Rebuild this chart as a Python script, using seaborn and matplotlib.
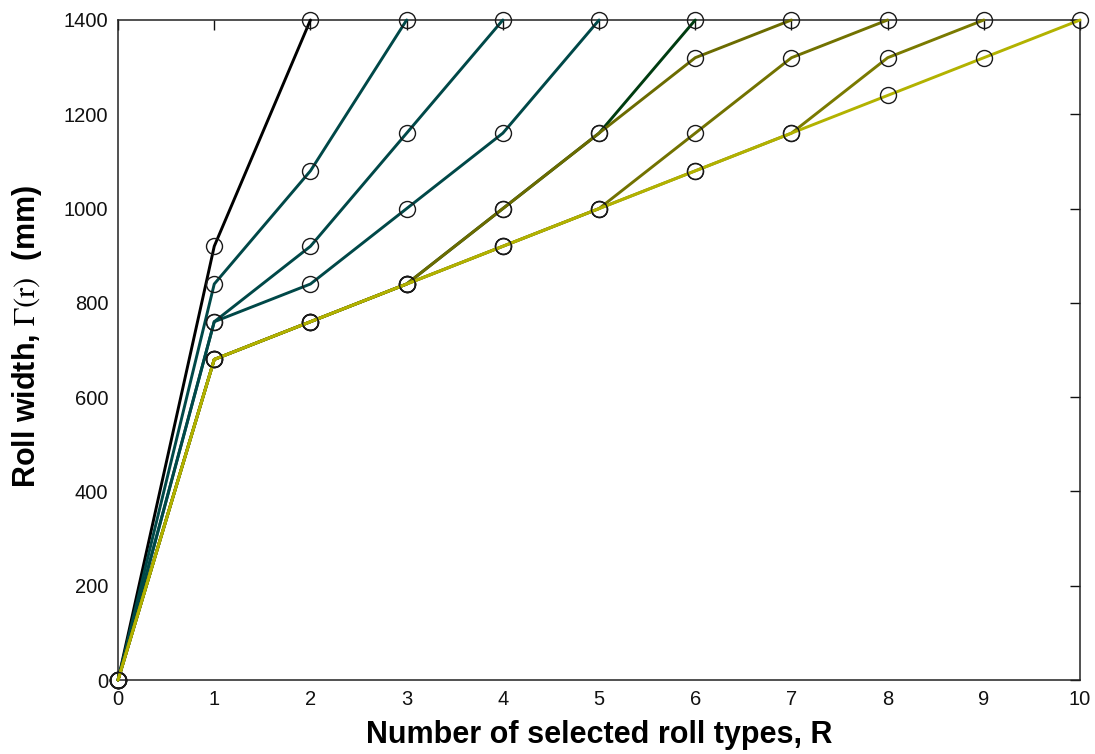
import numpy as np
import pandas as pd
import seaborn as sns
from matplotlib import pyplot as plt

# roll widths for each number of selected roll types R (index = r)
widths_R2 = [0, 920, 1400]
widths_R3 = [0, 840, 1080, 1400]
widths_R4 = [0, 760, 920, 1160, 1400]
widths_R5 = [0, 760, 840, 1000, 1160, 1400]
widths_R6 = [0, 680, 760, 840, 1000, 1160, 1400]
widths_R7 = [0, 680, 760, 840, 1000, 1160, 1320, 1400]
widths_R8 = [0, 680, 760, 840, 920, 1000, 1160, 1320, 1400]
widths_R9 = [0, 680, 760, 840, 920, 1000, 1080, 1160, 1320, 1400]
widths_R10 = [0, 680, 760, 840, 920, 1000, 1080, 1160, 1240, 1320, 1400]

series = {2: widths_R2, 3: widths_R3, 4: widths_R4, 5: widths_R5, 6: widths_R6,
          7: widths_R7, 8: widths_R8, 9: widths_R9, 10: widths_R10}
line_colors = {2: "#000000", 3: "#004848", 4: "#004848", 5: "#004848", 6: "#003c10",
               7: "#6b6b00", 8: "#727200", 9: "#7a7a00", 10: "#b2b200"}

rows = []
for R, vals in series.items():
    for r, w in enumerate(vals):
        rows.append({"R": R, "r": r, "width": w})
df = pd.DataFrame(rows)

sns.set_theme(style="white")
plt.rcParams["font.family"] = ["Liberation Sans", "DejaVu Sans"]
plt.rcParams["mathtext.fontset"] = "stix"

fig = plt.figure(figsize=(10.95, 7.54), dpi=100)
ax = fig.add_axes([0.1078, 0.0981, 0.8786, 0.8754])

sns.lineplot(data=df, x="r", y="width", hue="R", palette=line_colors, sort=False,
             estimator=None, units="R", linewidth=2.1, marker="o", markersize=11.5,
             markerfacecolor="none", markeredgecolor="k", markeredgewidth=1.0,
             legend=False, ax=ax, clip_on=False, zorder=3)

ax.set_xlim(0, 10)
ax.set_ylim(0, 1400)
ax.set_xticks(range(0, 11))
ax.set_yticks(range(0, 1401, 200))
ax.tick_params(direction="in", length=7, width=1, top=True, right=True,
               labelsize=14.5, colors="#111111", pad=7)
for s in ax.spines.values():
    s.set_linewidth(1.1)
    s.set_color("#222222")

ax.set_xlabel("Number of selected roll types, R", fontsize=22, fontweight="bold",
              labelpad=8, color="#000000")
ax.set_ylabel(r"Roll width, $\mathrm{\Gamma(r)}$  (mm)", fontsize=22, fontweight="bold",
              color="#000000")
ax.yaxis.set_label_coords(-0.077, 0.52)

fig.savefig("out.png", dpi=100)
